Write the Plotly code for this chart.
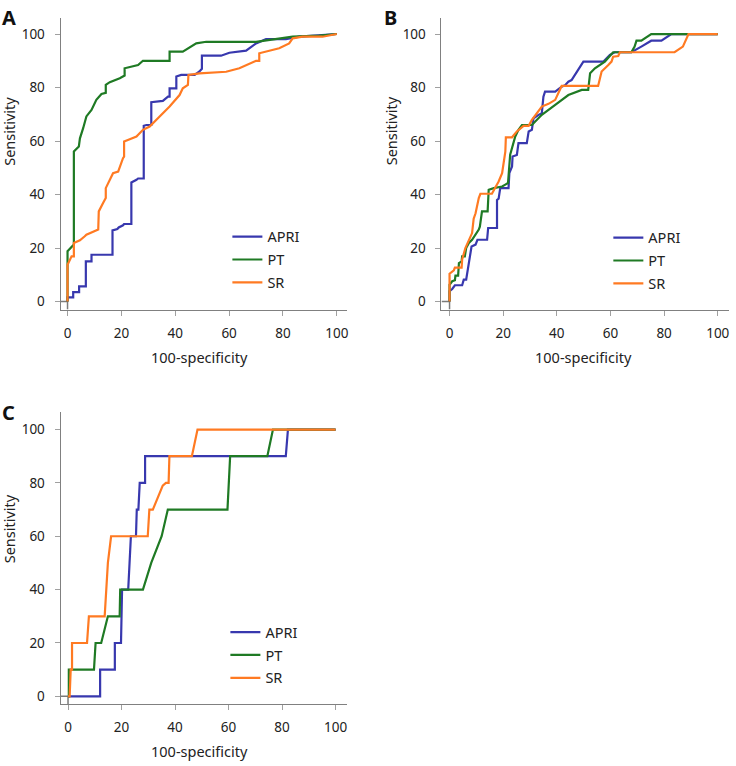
import plotly.graph_objects as go

# ---------------- data ----------------
series_names = ["APRI", "PT", "SR"]
colors = {"APRI": "#3838AE", "PT": "#1F7A24", "SR": "#FF7A22"}
x_ticks = [0, 20, 40, 60, 80, 100]
y_ticks = [0, 20, 40, 60, 80, 100]

# Panel A
A_APRI_x = [0, 0, 2.1, 2.1, 4.3, 4.3, 6.8, 6.8, 8.9, 8.9, 16.7, 16.7, 18.5, 19, 20.6, 21, 23.7, 23.7, 25.6, 26.2, 28.3, 28.3, 29.3, 31.1, 31.1, 35.4, 37.3, 37.9, 37.9, 40.4, 40.4, 42.2, 47.2, 49, 49.9, 49.9, 57, 60.1, 66.3, 70, 73.7, 81.1, 86, 100]
A_APRI_y = [0, 1.6, 1.6, 3.5, 3.5, 5.7, 5.7, 15, 15, 17.5, 17.5, 26.6, 27.1, 27.7, 28.5, 29, 29, 44.5, 45.5, 46, 46, 65.7, 66, 66, 74.5, 75, 76.6, 76.6, 79.7, 79.7, 84.1, 84.7, 84.7, 86, 87, 91.9, 91.9, 93, 93.8, 96.5, 98.1, 98.1, 99, 100]
A_PT_x = [0, 0, 2.35, 2.35, 4.2, 4.6, 5.8, 7, 8.9, 10.7, 12.6, 14.2, 14.2, 15.7, 19.4, 21.2, 21.2, 24.3, 26.2, 28, 37.9, 37.9, 42.8, 47.8, 51.5, 70, 80.5, 83.6, 93.5, 100]
A_PT_y = [0, 18.8, 21.3, 56.1, 58, 61, 64.8, 69.2, 71.6, 75.4, 77.6, 78, 81, 82, 83.5, 84.5, 87.2, 88, 88.4, 90, 90, 93.4, 93.4, 96.5, 97.1, 97.1, 98.4, 99, 99.4, 100]
A_SR_x = [0, 0, 1.5, 2.35, 2.35, 4.6, 6.4, 7, 11.4, 11.6, 13.2, 14.2, 14.2, 15.7, 16.9, 18.8, 19.4, 20.6, 21, 21, 23.1, 25.6, 28, 30.5, 34.2, 37.9, 41.6, 42.8, 44.7, 44.9, 49, 58.9, 63.8, 70, 71.2, 71.2, 78.6, 82.3, 83.6, 87.3, 94.7, 100]
A_SR_y = [0, 13.8, 16.9, 16.9, 21.9, 22.9, 24.4, 25, 26.9, 33.7, 36.8, 38.7, 42.4, 45.5, 48, 48.6, 50.5, 53.6, 54.2, 59.8, 60.7, 61.7, 64.2, 65.4, 69.2, 72.9, 77.2, 79.7, 81, 84.7, 85.3, 85.9, 87.2, 90, 90, 92.8, 94.7, 96.5, 98.4, 99, 99, 100]

# Panel B
B_APRI_x = [0, 0, 1, 2, 4.7, 5.3, 6.2, 7.2, 7.8, 8.2, 9.7, 10.4, 14, 14.4, 17.7, 17.7, 18.3, 18.9, 22, 22.3, 23.3, 23.5, 25.1, 25.7, 28.8, 29.5, 30.7, 31.3, 33.2, 34.4, 35, 35.6, 39.4, 41.8, 43.1, 44.3, 45.5, 49.9, 57.4, 59.8, 61.6, 67.8, 71.5, 75.2, 79, 81.4, 82.7, 100]
B_APRI_y = [0, 3.9, 4.7, 6.1, 6.1, 8.2, 8.2, 14.4, 17.5, 20.6, 21.3, 23.1, 23.1, 27.5, 27.5, 38, 38.5, 42.4, 42.4, 48, 50.5, 54.2, 54.8, 59.2, 59.2, 63.6, 64.2, 68.5, 69.8, 70.4, 76.6, 78.5, 78.5, 80.3, 80.9, 82.2, 82.8, 89.7, 89.7, 92.2, 93.2, 93.2, 95.3, 97.5, 97.5, 99, 100, 100]
B_PT_x = [0, 0, 1, 2, 2.2, 3.2, 3.5, 4.5, 4.7, 5.7, 6.2, 7.2, 8.4, 9.7, 10.9, 11.3, 12.1, 14.2, 14.6, 16.5, 19.6, 20.8, 21.8, 22.6, 24.5, 25.7, 27, 30.7, 34.4, 39.4, 44.3, 49.3, 51.7, 52.4, 54.2, 57.9, 61, 67.8, 69, 69.7, 71.5, 75.2, 100]
B_PT_y = [0, 6.3, 7.6, 8, 9.7, 9.7, 14.4, 15, 16.9, 16.9, 20, 21.9, 23.1, 25, 26.9, 28, 33.7, 33.7, 41.8, 42.4, 43, 43.7, 44.3, 54.9, 61.7, 64.2, 66, 66, 69.8, 73.5, 77.2, 79.1, 79.1, 85.3, 87.2, 89.7, 93.2, 93.2, 95.3, 97.5, 97.5, 100, 100]
B_SR_x = [0, 0, 1.6, 2, 4.5, 4.7, 5.9, 8.4, 9, 9.7, 10.9, 11.5, 15.8, 18.3, 19.6, 20.8, 21, 23.3, 25.1, 27.6, 29.5, 30.7, 34.4, 36.9, 39.4, 41.8, 55.4, 56.7, 59.2, 60.4, 61, 62.9, 63.5, 83.9, 87, 89.1, 100]
B_SR_y = [0, 10.4, 11.7, 12.7, 12.7, 15.7, 20, 25.6, 31, 33, 38.7, 40.3, 40.3, 44.9, 48, 56, 61.4, 61.4, 63.6, 65.7, 65.7, 67.9, 72.9, 73.9, 75.4, 80.6, 80.6, 86, 88.4, 89.7, 91.5, 91.8, 93.2, 93.2, 95.3, 100, 100]

# Panel C
C_APRI_x = [0, 12, 12, 17.5, 17.5, 19.8, 20.2, 22.5, 23, 23.5, 25.4, 25.7, 26.3, 26.8, 28.8, 28.8, 81.4, 82.2, 100]
C_APRI_y = [0, 0, 10, 10, 20, 20, 40, 40, 50, 60, 60, 70, 70, 80, 80, 90, 90, 100, 100]
C_PT_x = [0, 0.3, 0.3, 9.7, 10.3, 12.4, 14.9, 19.3, 19.5, 28, 31.1, 35, 37.3, 59.6, 60.6, 74.5, 76.6, 100]
C_PT_y = [0, 0, 10, 10, 20, 20, 30, 30, 40, 40, 50, 60, 70, 70, 90, 90, 100, 100]
C_SR_x = [0, 0.6, 1, 1.5, 1.5, 7.1, 7.8, 13.7, 14.9, 16.1, 29.8, 30.4, 31.7, 35.4, 36.6, 37.6, 37.9, 46.3, 48.4, 100]
C_SR_y = [0, 0, 10, 10, 20, 20, 30, 30, 50, 60, 60, 70, 70, 79, 80, 80, 90, 90, 100, 100]

# small grey origin segment seen in each panel
origin_x = [-3, 0, 0]
origin_y = [0, 0, -3]

panels = {
    "A": {"APRI": (A_APRI_x, A_APRI_y), "PT": (A_PT_x, A_PT_y), "SR": (A_SR_x, A_SR_y)},
    "B": {"APRI": (B_APRI_x, B_APRI_y), "PT": (B_PT_x, B_PT_y), "SR": (B_SR_x, B_SR_y)},
    "C": {"APRI": (C_APRI_x, C_APRI_y), "PT": (C_PT_x, C_PT_y), "SR": (C_SR_x, C_SR_y)},
}

# ---------------- layout geometry ----------------
W, H = 736, 766
FONT = "Noto Sans, Open Sans, DejaVu Sans, sans-serif"
FS = 13.5
FS_T = 14.5

axes_ids = {"A": ("x", "y", "legend"), "B": ("x2", "y2", "legend2"), "C": ("x3", "y3", "legend3")}

fig = go.Figure()
for p, series in panels.items():
    xa, ya, lg = axes_ids[p]
    fig.add_trace(go.Scatter(x=origin_x, y=origin_y, mode="lines",
                             line=dict(color="#7a7a7a", width=1.5),
                             xaxis=xa, yaxis=ya, showlegend=False, hoverinfo="skip"))
    for name in series_names:
        xs, ys = series[name]
        fig.add_trace(go.Scatter(x=xs, y=ys, mode="lines", name=name,
                                 line=dict(color=colors[name], width=2.2),
                                 xaxis=xa, yaxis=ya, legend=lg,
                                 legendgroup=p + name))


def px_x(v):
    return v / W


def px_y(v):
    return 1 - v / H


axis_common = dict(showline=True, linecolor="#808080", linewidth=1, showgrid=False,
                   zeroline=False, ticks="outside", ticklen=5, tickcolor="#a0a0a0",
                   tickwidth=1, tickfont=dict(family=FONT, size=FS, color="#222222"),
                   tickvals=x_ticks)

legend_common = dict(font=dict(family=FONT, size=FS_T, color="#222222"), bgcolor="rgba(0,0,0,0)",
                     xanchor="left", yanchor="top", tracegroupgap=1, traceorder="grouped",
                     itemclick=False, itemdoubleclick=False)

fig.update_layout(
    width=W, height=H,
    margin=dict(l=0, r=0, t=0, b=0),
    paper_bgcolor="white", plot_bgcolor="white",
    font=dict(family=FONT, size=FS, color="#222222"),
    xaxis=dict(domain=[px_x(60.7), px_x(348)], range=[-2.6, 103.8], anchor="y", ticklabelstandoff=6, **axis_common),
    yaxis=dict(domain=[px_y(310), px_y(18)], range=[-3, 106], anchor="x", ticklabelstandoff=7, **axis_common),
    xaxis2=dict(domain=[px_x(442.7), px_x(731)], range=[-3.0, 104.2], anchor="y2", ticklabelstandoff=6, **axis_common),
    yaxis2=dict(domain=[px_y(310), px_y(18)], range=[-3, 106], anchor="x2", ticklabelstandoff=7, **axis_common),
    xaxis3=dict(domain=[px_x(60.7), px_x(348)], range=[-2.8, 104.3], anchor="y3", ticklabelstandoff=6, **axis_common),
    yaxis3=dict(domain=[px_y(705), px_y(413)], range=[-2.9, 106.4], anchor="x3", ticklabelstandoff=7, **axis_common),
    legend=dict(x=px_x(228), y=px_y(221), **legend_common),
    legend2=dict(x=px_x(610), y=px_y(222), **legend_common),
    legend3=dict(x=px_x(226), y=px_y(617), **legend_common),
    showlegend=True,
)

# panel letters
for letter, (lx, ly) in {"A": (0, 2), "B": (383, 2), "C": (0, 398)}.items():
    fig.add_annotation(text="<b>%s</b>" % letter, x=px_x(lx), y=px_y(ly), xref="paper", yref="paper",
                       xanchor="left", yanchor="top", showarrow=False,
                       font=dict(family=FONT, size=20, color="#111111"))

# axis titles
for (cx, cy) in [(200, 357), (585, 357), (200, 752)]:
    fig.add_annotation(text="100-specificity", x=px_x(cx), y=px_y(cy), xref="paper", yref="paper",
                       xanchor="center", yanchor="middle", showarrow=False,
                       font=dict(family=FONT, size=FS_T, color="#222222"))
for (cx, cy) in [(9, 131), (391.5, 131), (9, 529)]:
    fig.add_annotation(text="Sensitivity", x=px_x(cx), y=px_y(cy), xref="paper", yref="paper",
                       xanchor="center", yanchor="middle", showarrow=False, textangle=-90,
                       font=dict(family=FONT, size=FS_T, color="#222222"))

fig.write_html("out.html",
               config={"displayModeBar": False},
               post_script="document.body.style.margin='0';document.body.style.overflow='hidden';")
